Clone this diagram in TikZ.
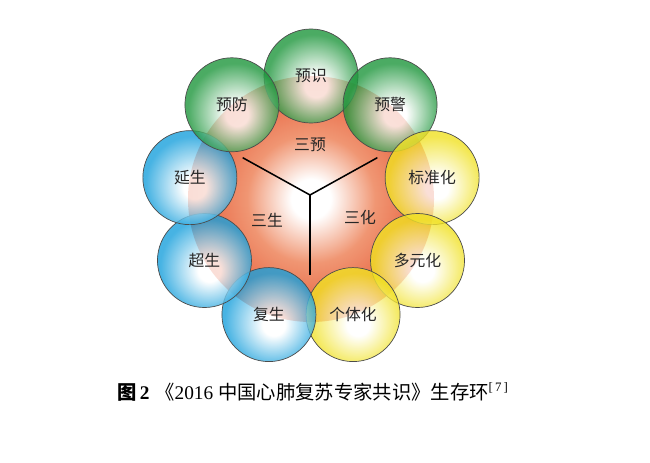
\documentclass[tikz,border=0pt]{standalone}
\usepackage{fontspec}
\setmainfont{Liberation Serif}
\newfontfamily\cjk{Noto Sans CJK SC}
\usetikzlibrary{positioning}
\definecolor{ringgreen}{RGB}{30,150,60}
\definecolor{ringblue}{RGB}{25,160,220}
\definecolor{ringyellow}{RGB}{240,225,35}
\definecolor{coreorange}{RGB}{230,90,55}
\definecolor{coresalmon}{RGB}{240,150,115}
\pgfdeclareradialshading{greenball}{\pgfpoint{3bp}{-6bp}}{color(0bp)=(white); color(6bp)=(white); color(25bp)=(ringgreen); color(50bp)=(ringgreen)}
\pgfdeclareradialshading{blueball}{\pgfpoint{3bp}{-6bp}}{color(0bp)=(white); color(6bp)=(white); color(25bp)=(ringblue); color(50bp)=(ringblue)}
\pgfdeclareradialshading{yellowball}{\pgfpoint{3bp}{-6bp}}{color(0bp)=(white); color(6bp)=(white); color(25bp)=(ringyellow); color(50bp)=(ringyellow)}
\pgfdeclareradialshading{coredisc}{\pgfpoint{0bp}{0bp}}{color(0bp)=(white); color(4bp)=(white); color(13bp)=(coresalmon); color(25bp)=(coreorange); color(50bp)=(coreorange)}
\tikzset{%
  every ball/.style={
    circle,
    draw=gray!60!black,
    line width=0.6pt,
    inner sep=0pt,
    minimum size=2.82cm,
    shade,
    fill opacity=0.8,
    text opacity=1,
    font=\cjk\fontsize{13.5}{15}\selectfont,
    text=black!85
  },
  ball green/.style={shading=greenball},
  ball blue/.style={shading=blueball},
  ball yellow/.style={shading=yellowball},
  core label/.style={
    font=\cjk\fontsize{13.5}{15}\selectfont,
    text=black!85
  },
}

\begin{document}
\begin{tikzpicture}[x=0.03cm, y=0.03cm]
\useasboundingbox (0,0) rectangle (650,462);

% Core disc
\node [circle, minimum size=7.38cm, inner sep=0pt, shade, shading=coredisc] (core) at (311,263) {};

% Ring of balls
\foreach \m/\a/\c [count=\y] in {预识/90/green, 预警/50/green, 标准化/10/yellow, 多元化/-30/yellow, 个体化/-70/yellow, 复生/-110/blue, 超生/-150/blue, 延生/170/blue, 预防/130/green}
  \node [every ball/.try, ball \c/.try] (ball-\y) at ([shift={(\a:123)}]core.center) {\m};

% The Y
\coordinate (hub) at (310,267);
\coordinate (arm-l) at ([shift={(151:77)}]hub);
\coordinate (arm-r) at ([shift={(29:77)}]hub);
\coordinate (arm-b) at ([shift={(270:80)}]hub);
\foreach \i in {l,r,b}
  \draw [line width=1.3pt] (hub) -- (arm-\i);

\node [core label] (san-yu) at (310,317) {三预};
\node [core label] (san-sheng) at (267,242) {三生};
\node [core label] (san-hua) at (360,245) {三化};

% Caption
\node [anchor=west, font=\fontsize{16.5}{18}\selectfont, inner sep=0pt] (caption) at (117,70)
  {{\cjk\bfseries 图}\,\textbf{2}\hspace{0.3em}{\cjk 《}2016 {\cjk 中国心肺复苏专家共识》生存环}\raisebox{0.9ex}{\fontsize{11}{12}\selectfont[\,7\,]}};

\end{tikzpicture}
\end{document}
